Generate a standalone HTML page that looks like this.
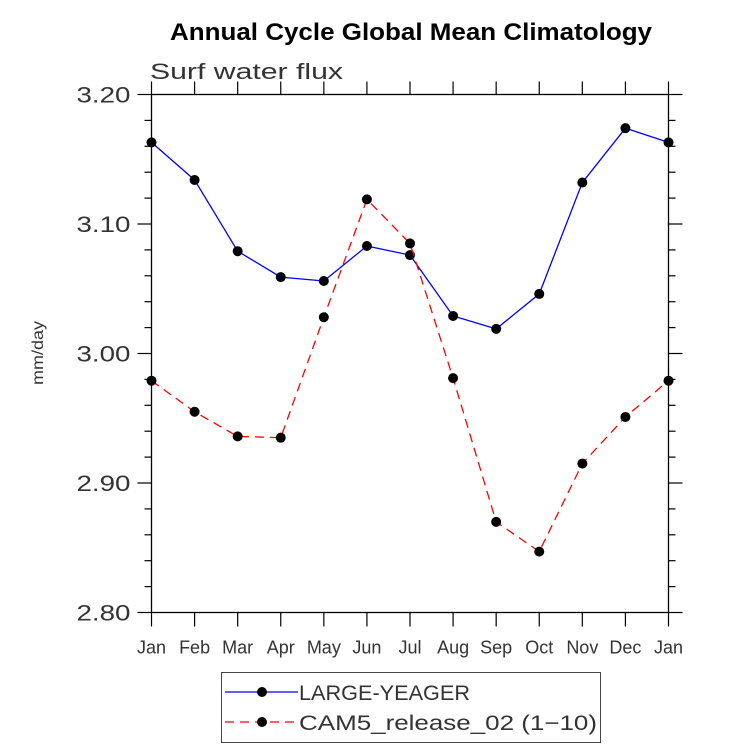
<!DOCTYPE html>
<html><head><meta charset="utf-8"><style>
body{margin:0;background:#fff;}
svg{display:block;font-family:"Liberation Sans",sans-serif;}
</style></head><body>
<svg id="chart" width="733" height="748" xmlns="http://www.w3.org/2000/svg">
<text x="170" y="40" textLength="482" lengthAdjust="spacingAndGlyphs" font-size="24" font-weight="bold" fill="#000">Annual Cycle Global Mean Climatology</text>
<text x="150" y="79" textLength="193" lengthAdjust="spacingAndGlyphs" font-size="22" fill="#333">Surf water flux</text>
<text transform="translate(43,353) rotate(-90)" text-anchor="middle" textLength="64" lengthAdjust="spacingAndGlyphs" font-size="16" fill="#333">mm/day</text>
<g id="axes"></g>
<g id="series"></g>
<g id="legend">
<rect x="221.5" y="672.5" width="379" height="70" fill="none" stroke="#444" stroke-width="1"/>
<g>
<line x1="225" y1="692" x2="298" y2="692" stroke="#0000ff" stroke-width="1.3"/>
<circle cx="262" cy="692" r="5" fill="#000"/>
<text x="299" y="700" textLength="171" lengthAdjust="spacingAndGlyphs" font-size="21" fill="#333">LARGE-YEAGER</text>
</g>
<g>
<line x1="225" y1="722" x2="298" y2="722" stroke="#ff0000" stroke-width="1.3" stroke-dasharray="9,6"/>
<circle cx="262" cy="722" r="5" fill="#000"/>
<text x="299" y="730" textLength="298" lengthAdjust="spacingAndGlyphs" font-size="21" fill="#333">CAM5_release_02 (1−10)</text>
</g>
</g>
</svg>
<script>
const months = ["Jan","Feb","Mar","Apr","May","Jun","Jul","Aug","Sep","Oct","Nov","Dec","Jan"];
const largeYeager = [3.163,3.134,3.079,3.059,3.056,3.083,3.076,3.029,3.019,3.046,3.132,3.174,3.163];
const cam5 = [2.979,2.955,2.936,2.935,3.028,3.119,3.085,2.981,2.870,2.847,2.915,2.951,2.979];
const yTicks = [2.80,2.90,3.00,3.10,3.20];
const yTickLabels = ["2.80","2.90","3.00","3.10","3.20"];

const NS="http://www.w3.org/2000/svg";
const L=151.5,R=668.5,T=94.5,B=612.5;
const yMin=2.8,yMax=3.2;
function xs(i){return L+(R-L)*i/(months.length-1);}
function ys(v){return B-(B-T)*(v-yMin)/(yMax-yMin);}
function mk(tag,attrs,parent){const e=document.createElementNS(NS,tag);for(const k in attrs)e.setAttribute(k,attrs[k]);parent.appendChild(e);return e;}
const axes=document.getElementById('axes');
const frame=mk('rect',{x:L,y:T,width:R-L,height:B-T,fill:'none',stroke:'#000','stroke-width':1.3},axes);


months.forEach((m,i)=>{
  const x=xs(i);
  mk('line',{x1:x,y1:B,x2:x,y2:B+14,stroke:'#000','stroke-width':1.2},axes);
  mk('line',{x1:x,y1:T,x2:x,y2:T-13,stroke:'#000','stroke-width':1.2},axes);
  const t=mk('text',{x:x,y:B+41,'text-anchor':'middle','font-size':18,fill:'#333'},axes);
  t.textContent=m;
  
  
});
for(let k=0;k<=20;k++){
  const v=yMin+k*0.02;const y=ys(v);const major=k%5===0;
  const len=major?14:7;
  mk('line',{x1:L-len,y1:y,x2:L,y2:y,stroke:'#000','stroke-width':1.2},axes);
  mk('line',{x1:R,y1:y,x2:R+len,y2:y,stroke:'#000','stroke-width':1.2},axes);
}
yTicks.forEach((v,i)=>{
  const t=mk('text',{x:L-21,y:ys(v)+8,'text-anchor':'end','font-size':22,fill:'#333',textLength:54,lengthAdjust:'spacingAndGlyphs'},axes);
  t.textContent=yTickLabels[i];
  
  
});
const series=document.getElementById('series');
function draw(vals,color,dash,name){
  const g=mk('g',{},series);
  
  
  const pts=vals.map((v,i)=>xs(i)+','+ys(v)).join(' ');
  const attrs={points:pts,fill:'none',stroke:color,'stroke-width':1.3};
  if(dash)attrs['stroke-dasharray']=dash;
  mk('polyline',attrs,g);
  vals.forEach((v,i)=>{
    const c=mk('circle',{cx:xs(i),cy:ys(v),r:5,fill:'#000'},g);
    
    
  });
}
draw(largeYeager,'#0000ff',null,'series-large-yeager');
draw(cam5,'#ff0000','9,6','series-cam5');
</script>
</body></html>
